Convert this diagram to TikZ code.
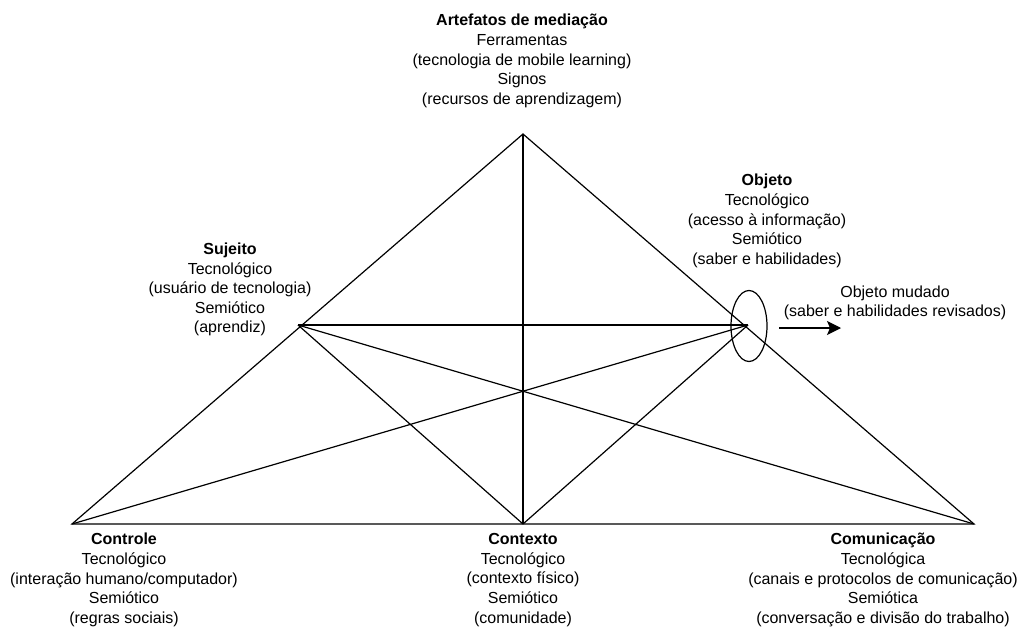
\documentclass[tikz,border=0pt]{standalone}
\usepackage{fontspec}
\setmainfont{Liberation Sans}
\usetikzlibrary{shapes.geometric,arrows.meta}

\tikzset{
rotulo/.style={align=center, inner sep=0pt, font=\fontsize{16}{19.6}\selectfont},
aresta/.style={line width=1.2pt, black},
}

\begin{document}
\begin{tikzpicture}[x=1pt, y=-1pt]
\useasboundingbox (0,0) rectangle (1018,627);

\coordinate (artefatos) at (523,134);
\coordinate (sujeito) at (298,325);
\coordinate (objeto) at (748,325);
\coordinate (controle) at (72,524);
\coordinate (contexto) at (523,524);
\coordinate (comunicacao) at (974,524);

\draw[aresta] (controle) -- (artefatos) -- (comunicacao) -- cycle;
\draw[aresta] (artefatos) -- (contexto);
\draw[aresta] (sujeito) -- (objeto);
\draw[aresta] (sujeito) -- (contexto);
\draw[aresta] (sujeito) -- (comunicacao);
\draw[aresta] (controle) -- (objeto);
\draw[aresta] (contexto) -- (objeto);

\node[ellipse, draw, line width=1.2pt, minimum width=36pt, minimum height=71pt, inner sep=0pt]
  (oval) at (749,326) {};

\coordinate (setaA) at (779,328);
\coordinate (setaB) at (841,328);
\draw[aresta, -{Stealth[length=14pt, width=14pt, inset=3pt]}] (setaA) -- (setaB);

\node[rotulo] (txtartefatos) at (522,61)
  {\textbf{Artefatos de mediação}\\Ferramentas\\(tecnologia de mobile learning)\\Signos\\(recursos de aprendizagem)};
\node[rotulo] (txtsujeito) at (230,289.5)
  {\textbf{Sujeito}\\Tecnológico\\(usuário de tecnologia)\\Semiótico\\(aprendiz)};
\node[rotulo] (txtobjeto) at (767,221)
  {\textbf{Objeto}\\Tecnológico\\(acesso à informação)\\Semiótico\\(saber e habilidades)};
\node[rotulo] (txtmudado) at (895,303)
  {Objeto mudado\\(saber e habilidades revisados)};
\node[rotulo] (txtcontrole) at (124,580)
  {\textbf{Controle}\\Tecnológico\\(interação humano/computador)\\Semiótico\\(regras sociais)};
\node[rotulo] (txtcontexto) at (523,580)
  {\textbf{Contexto}\\Tecnológico\\(contexto físico)\\Semiótico\\(comunidade)};
\node[rotulo] (txtcomunicacao) at (883,580)
  {\textbf{Comunicação}\\Tecnológica\\(canais e protocolos de comunicação)\\Semiótica\\(conversação e divisão do trabalho)};
\end{tikzpicture}
\end{document}
